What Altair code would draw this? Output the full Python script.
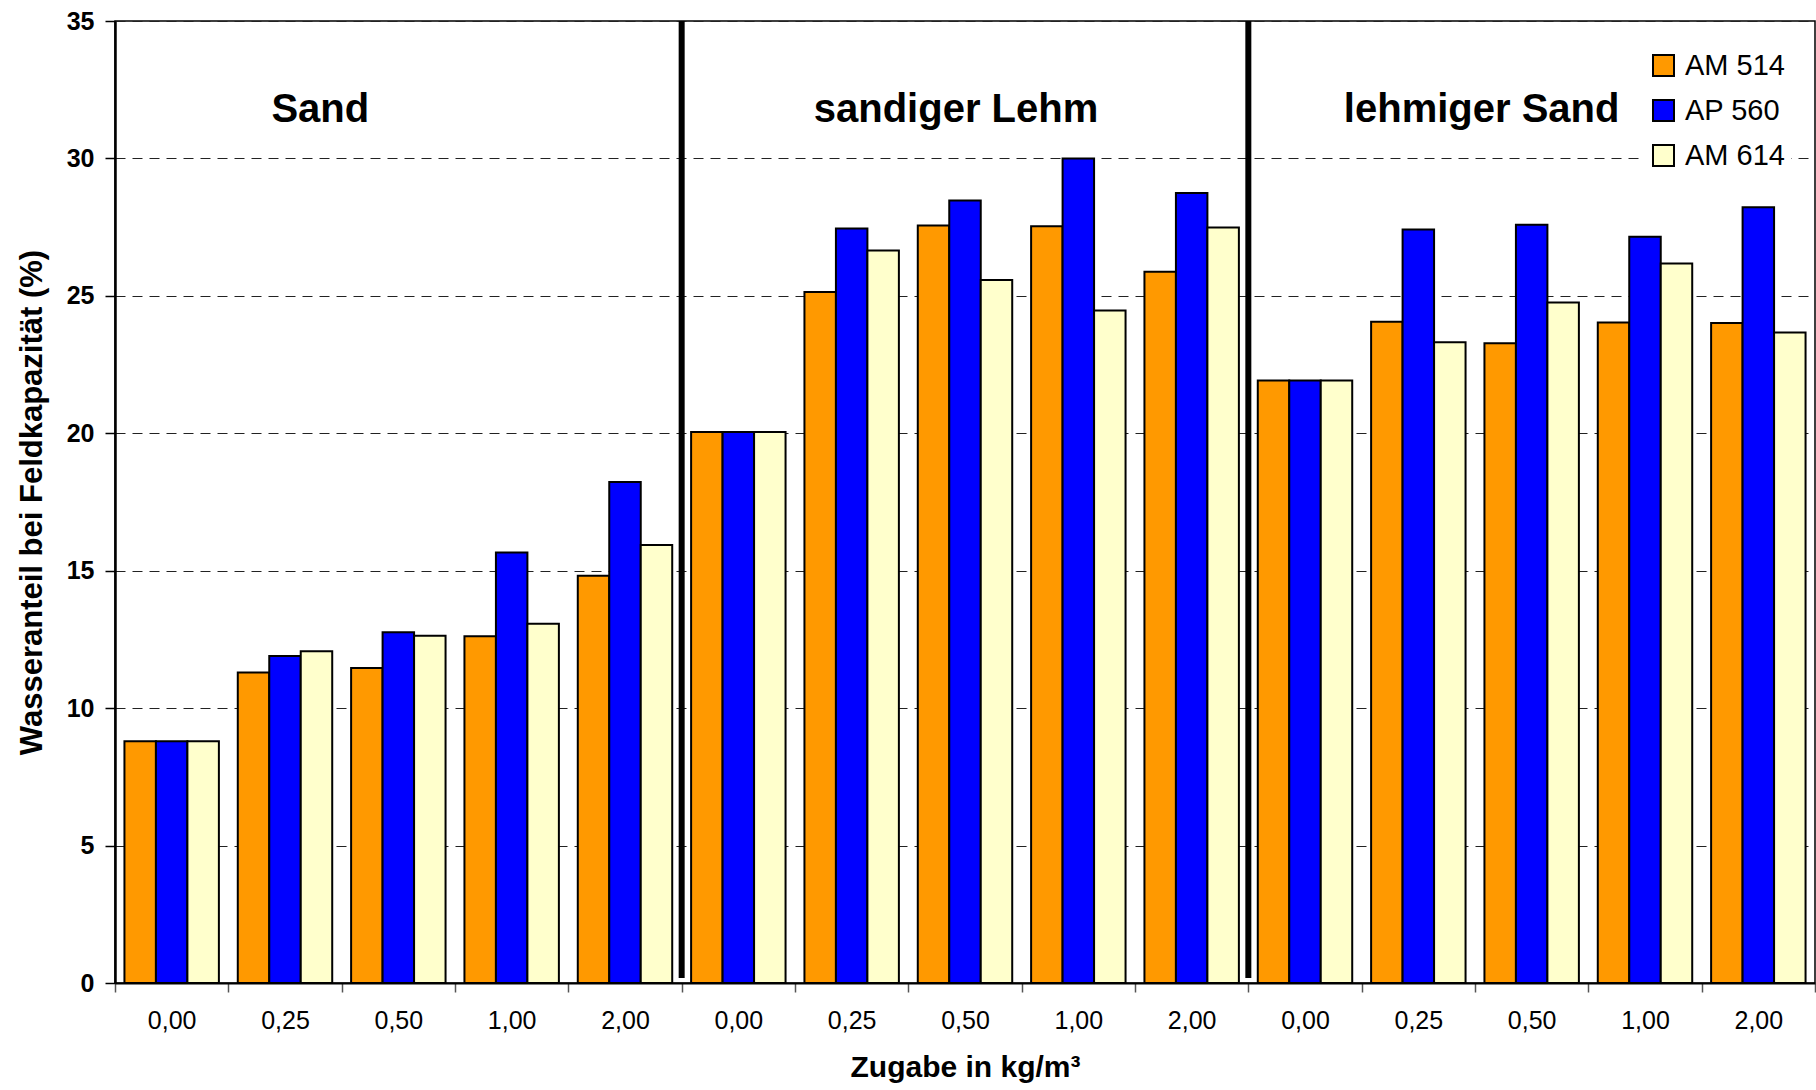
import altair as alt
import pandas as pd

soils = ["Sand", "sandiger Lehm", "lehmiger Sand"]
doses = ["0,00", "0,25", "0,50", "1,00", "2,00"]
series = ["AM 514", "AP 560", "AM 614"]
colors = ["#FF9900", "#0000FF", "#FFFFCC"]

am514 = [8.8, 11.3, 11.46, 12.62, 14.82,
         20.05, 25.14, 27.56, 27.53, 25.88,
         21.92, 24.06, 23.28, 24.03, 24.01]
ap560 = [8.8, 11.9, 12.76, 15.66, 18.23,
         20.05, 27.45, 28.47, 30.0, 28.74,
         21.92, 27.41, 27.59, 27.15, 28.22]
am614 = [8.8, 12.07, 12.63, 13.07, 15.94,
         20.05, 26.65, 25.58, 24.47, 27.49,
         21.92, 23.31, 24.76, 26.18, 23.67]

title_dx = [-78, -9, -50]

cats = [f"{s}|{d}" for s in soils for d in doses]
rows = []
for name, vals in zip(series, [am514, ap560, am614]):
    for c, v in zip(cats, vals):
        rows.append({"cat": c, "serie": name, "wert": v})
df = pd.DataFrame(rows)

W, H = 1700, 962
xscale = alt.Scale(domain=cats, paddingInner=0, paddingOuter=0)
yscale = alt.Scale(domain=[0, 35], nice=False)

x_enc = alt.X("cat:N", scale=xscale, sort=cats,
              axis=alt.Axis(title="Zugabe in kg/m³",
                            labelExpr="split(datum.label, '|')[1]",
                            labelAngle=0, labelFont="Liberation Sans", labelFontSize=25,
                            labelFontWeight="normal", labelColor="black", labelPadding=16,
                            tickBand="extent", tickSize=9, tickColor="#555", tickWidth=1.5,
                            domainColor="black", domainWidth=2,
                            titleFont="Liberation Sans", titleFontSize=30, titleFontWeight="bold",
                            titleColor="black", titlePadding=19, grid=False))

bars = alt.Chart(df).mark_bar(stroke="black", strokeWidth=2).encode(
    x=x_enc,
    xOffset=alt.XOffset("serie:N", sort=series,
                        scale=alt.Scale(domain=series, paddingInner=0, paddingOuter=0.3)),
    y=alt.Y("wert:Q", scale=yscale,
            axis=alt.Axis(title="Wasseranteil bei Feldkapazität (%)",
                          values=[0, 5, 10, 15, 20, 25, 30, 35],
                          labelFont="Liberation Sans", labelFontSize=25, labelFontWeight="bold",
                          labelColor="black", labelPadding=11,
                          tickSize=10, tickColor="black", tickWidth=1.5,
                          domainColor="black", domainWidth=2.5,
                          titleFont="Liberation Sans", titleFontSize=31, titleFontWeight="bold",
                          titleColor="black", titlePadding=18,
                          grid=True, gridColor="#222", gridDash=[10, 7], gridWidth=1)),
    color=alt.Color("serie:N", sort=series,
                    scale=alt.Scale(domain=series, range=colors),
                    legend=alt.Legend(title=None, orient="none", legendX=1528, legendY=24,
                                      symbolType="square", symbolSize=441,
                                      symbolStrokeColor="black", symbolStrokeWidth=2,
                                      labelFont="Liberation Sans", labelFontSize=29,
                                      labelColor="black", labelOffset=7, rowPadding=15,
                                      padding=6, fillColor="white")),
)

sep_df = pd.DataFrame({"cat": [cats[5], cats[10]], "top": [35, 35], "bot": [0.18, 0.18]})
seps = alt.Chart(sep_df).mark_rule(color="black", strokeWidth=6).encode(
    x=alt.X("cat:N", scale=xscale, sort=cats, bandPosition=0),
    y=alt.Y("top:Q", scale=yscale),
    y2="bot:Q",
)

layers = [bars, seps]
for i, s in enumerate(soils):
    tdf = pd.DataFrame({"cat": [cats[i * 5 + 2]], "y": [31.75], "t": [s]})
    layers.append(
        alt.Chart(tdf).mark_text(font="Liberation Sans", fontSize=40, fontWeight="bold",
                                 color="black", baseline="middle", align="center",
                                 dx=title_dx[i]).encode(
            x=alt.X("cat:N", scale=xscale, sort=cats),
            y=alt.Y("y:Q", scale=yscale),
            text="t:N",
        )
    )

chart = alt.layer(*layers).properties(
    width=W, height=H,
    autosize=alt.AutoSizeParams(type="none"),
    padding={"left": 115, "top": 21, "right": 1, "bottom": 107},
    background="white",
).configure_view(stroke="black", strokeWidth=1.5)

chart.save("out.html", embed_options={"renderer": "svg", "actions": False})
